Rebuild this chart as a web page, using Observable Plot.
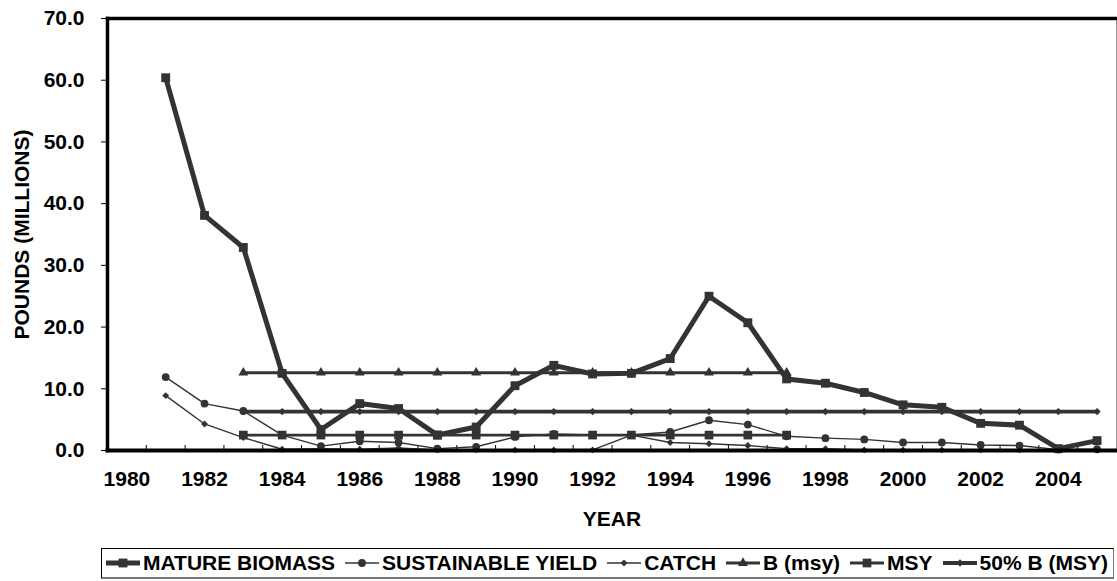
<!DOCTYPE html>
<html><head><meta charset="utf-8">
<script src="https://cdn.jsdelivr.net/npm/d3@7"></script>
<script src="https://cdn.jsdelivr.net/npm/@observablehq/plot@0.6"></script>
<style>
body{margin:0;background:#fff;font-family:"Liberation Sans",Arial,sans-serif;}
#chart{position:absolute;left:0;top:0;}
#legend{position:absolute;left:101px;top:548px;width:1013px;height:31px;box-sizing:border-box;border:1px solid #000;border-bottom:2px solid #777;border-right-color:#777;display:flex;align-items:center;justify-content:space-between;font-weight:bold;font-size:21px;color:#000;padding:0 5px 0 4px;white-space:nowrap;}
#legend .item{display:flex;align-items:center;}
#legend svg{margin-right:3px;}
</style></head><body>
<div id="chart"></div><div id="legend"></div>
<script>
// ---- data ----
const years = [1981,1982,1983,1984,1985,1986,1987,1988,1989,1990,1991,1992,1993,1994,1995,1996,1997,1998,1999,2000,2001,2002,2003,2004,2005];
const matureBiomass = [60.4,38.1,32.9,12.5,3.4,7.6,6.8,2.5,3.8,10.5,13.8,12.4,12.5,14.9,25.0,20.7,11.6,10.9,9.4,7.4,7.0,4.4,4.1,0.3,1.6];
const sustainableYield = [11.9,7.6,6.4,2.5,0.7,1.5,1.3,0.3,0.6,2.2,2.7,2.5,2.5,3.0,4.9,4.2,2.3,2.0,1.8,1.3,1.3,0.9,0.8,0.15,0.2];
const catchVals = [8.9,4.3,2.1,0.2,0.3,0.2,0.4,0.1,0.1,0.1,0.1,0.1,2.5,1.3,1.1,0.8,0.3,0.3,0.1,0.1,0.1,0.1,0.1,0.1,0.1];
const refYears = [1983,1984,1985,1986,1987,1988,1989,1990,1991,1992,1993,1994,1995,1996,1997];
const bMsy = [12.6,12.6,12.6,12.6,12.6,12.6,12.6,12.6,12.6,12.6,12.6,12.6,12.6,12.6,12.6];
const msy = [2.5,2.5,2.5,2.5,2.5,2.5,2.5,2.5,2.5,2.5,2.5,2.5,2.5,2.5,2.5];
const halfYears = [1983,1984,1985,1986,1987,1988,1989,1990,1991,1992,1993,1994,1995,1996,1997,1998,1999,2000,2001,2002,2003,2004,2005];
const halfBMsy = [6.3,6.3,6.3,6.3,6.3,6.3,6.3,6.3,6.3,6.3,6.3,6.3,6.3,6.3,6.3,6.3,6.3,6.3,6.3,6.3,6.3,6.3,6.3];
const xTickLabels = [1980,1982,1984,1986,1988,1990,1992,1994,1996,1998,2000,2002,2004];
const xTickBounds = [1980.5,1981.5,1982.5,1983.5,1984.5,1985.5,1986.5,1987.5,1988.5,1989.5,1990.5,1991.5,1992.5,1993.5,1994.5,1995.5,1996.5,1997.5,1998.5,1999.5,2000.5,2001.5,2002.5,2003.5,2004.5];
const yTicks = [0,10,20,30,40,50,60,70];
const labels = {y:"POUNDS (MILLIONS)", x:"YEAR"};

const C = "#333333";
const toRows = (xs, vs) => xs.map((x,i)=>({x, y:vs[i]}));
const series = [
  {name:"MATURE BIOMASS", data:toRows(years,matureBiomass), sw:5, symbol:"square", r:5.0},
  {name:"SUSTAINABLE YIELD", data:toRows(years,sustainableYield), sw:1.4, symbol:"circle", r:3.9},
  {name:"CATCH", data:toRows(years,catchVals), sw:1.4, symbol:"diamond2", r:3.1},
  {name:"B (msy)", data:toRows(refYears,bMsy), sw:2.8, symbol:"triangle", r:3.7},
  {name:"MSY", data:toRows(refYears,msy), sw:2.8, symbol:"square", r:4.9},
  {name:"50% B (MSY)", data:toRows(halfYears,halfBMsy), sw:3.8, symbol:"diamond2", r:3.3}
];
// draw order: reference lines first, then yields, biomass on top
const order = [3,5,4,2,1,0];

const FS = 21;
const marks = [
  Plot.tickX(xTickBounds, {x:d=>d, insetTop:427, stroke:"#000", strokeWidth:1}),
];
for (const i of order) {
  const s = series[i];
  marks.push(Plot.line(s.data, {x:"x", y:"y", stroke:C, strokeWidth:s.sw}));
  marks.push(Plot.dot(s.data, {x:"x", y:"y", symbol:()=>s.symbol, r:s.r, fill:C, stroke:"none"}));
}
marks.push(
  Plot.frame({anchor:"right", stroke:"#999", strokeWidth:1}),
  Plot.frame({anchor:"top", stroke:"#000", strokeWidth:3.5}),
  Plot.frame({anchor:"bottom", stroke:"#000", strokeWidth:4}),
  Plot.frame({anchor:"left", stroke:"#000", strokeWidth:3.5}),
  Plot.axisY(yTicks, {tickFormat:d=>d.toFixed(1), tickSize:6, tickPadding:17, label:null, stroke:"#000", fontWeight:"bold", fontSize:FS}),
  Plot.axisX(xTickLabels, {tickSize:0, tickPadding:21, tickFormat:d=>String(d), label:null, fontWeight:"bold", fontSize:FS}),
  Plot.text([labels.y], {text:d=>d, frameAnchor:"left", dx:-85, rotate:-90, fontWeight:"bold", fontSize:FS, textAnchor:"middle", lineAnchor:"middle"}),
  Plot.text([labels.x], {text:d=>d, frameAnchor:"bottom", dy:69, fontWeight:"bold", fontSize:FS, lineAnchor:"middle"})
);

const chart = Plot.plot({
  width:1117, height:540,
  marginLeft:107, marginRight:1, marginTop:18, marginBottom:90,
  style:{fontFamily:"'Liberation Sans', Arial, sans-serif", fontSize:FS+"px", color:"#000", background:"#fff", overflow:"visible"},
  x:{type:"linear", domain:[1979.5,2005.5], axis:null},
  y:{domain:[0,70], axis:null},
  marks
});
document.getElementById("chart").appendChild(chart);

// legend
const leg = document.getElementById("legend");
const symPath = {
  square:d3.symbolSquare, circle:d3.symbolCircle, diamond2:d3.symbolDiamond2, triangle:d3.symbolTriangle
};
for (const s of series) {
  const item = document.createElement("div"); item.className="item";
  const sv = d3.create("svg").attr("width",34).attr("height",16);
  sv.append("line").attr("x1",0).attr("x2",34).attr("y1",8).attr("y2",8).attr("stroke",C).attr("stroke-width",s.sw);
  sv.append("path").attr("transform","translate(17,8)").attr("fill",C)
    .attr("d", d3.symbol(symPath[s.symbol], Math.PI*s.r*s.r)());
  item.appendChild(sv.node());
  const t = document.createElement("span"); t.textContent = s.name; item.appendChild(t);
  leg.appendChild(item);
}
</script>
</body></html>
